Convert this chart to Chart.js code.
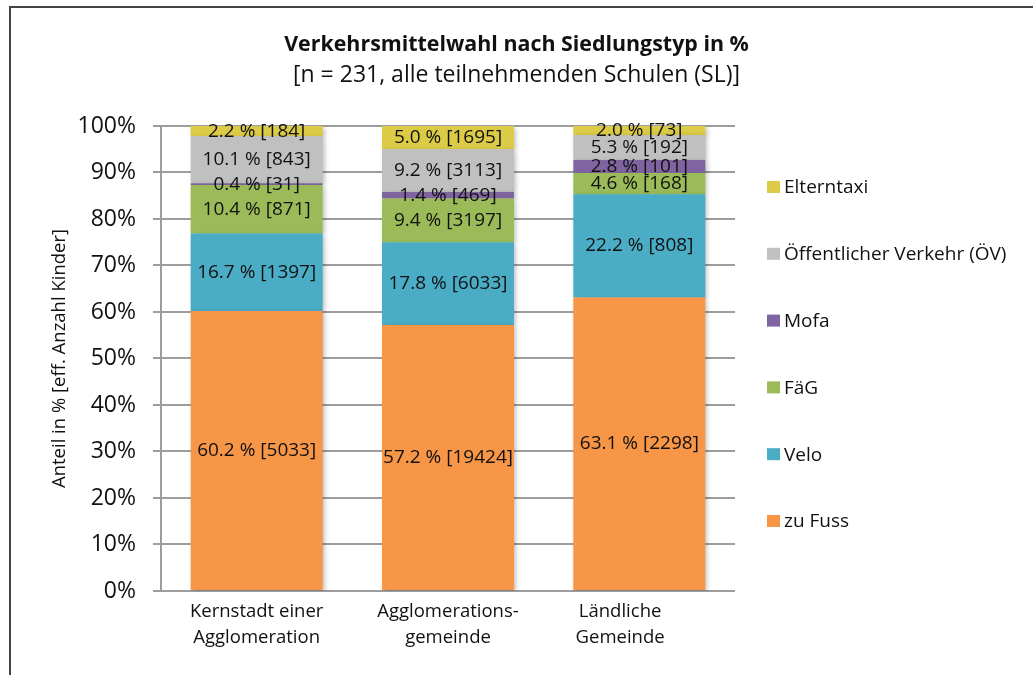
<!DOCTYPE html>
<html>
<head>
<meta charset="utf-8">
<script src="https://cdn.jsdelivr.net/npm/chart.js@4"></script>
<style>
  html, body { margin: 0; padding: 0; background: #fff; }
  #wrap { position: relative; width: 1033px; height: 675px; overflow: hidden; }
  #c { position: absolute; left: 0; top: 0; }
  #frame { position: absolute; left: 9px; top: 6px; width: 1100px; height: 800px;
           border-left: 2px solid #444; border-top: 2px solid #444; pointer-events: none; }
</style>
</head>
<body>
<div id="wrap">
  <canvas id="c" width="1033" height="675"></canvas>
  <div id="frame"></div>
</div>
<script>
// ---- data ----
const categories = [['Kernstadt einer', 'Agglomeration'], ['Agglomerations-', 'gemeinde'], ['Ländliche        ', 'Gemeinde        ']];
const seriesNames = ['zu Fuss', 'Velo', 'FäG', 'Mofa', 'Öffentlicher Verkehr (ÖV)', 'Elterntaxi'];
const zuFuss     = [60.2, 57.2, 63.1];
const velo       = [16.7, 17.8, 22.2];
const faeg       = [10.4, 9.4, 4.6];
const mofa       = [0.4, 1.4, 2.8];
const oev        = [10.1, 9.2, 5.3];
const elterntaxi = [2.2, 5.0, 2.0];
const nZuFuss     = [5033, 19424, 2298];
const nVelo       = [1397, 6033, 808];
const nFaeg       = [871, 3197, 168];
const nMofa       = [31, 469, 101];
const nOev        = [843, 3113, 192];
const nElterntaxi = [184, 1695, 73];
const yTicks = [0, 10, 20, 30, 40, 50, 60, 70, 80, 90, 100];

const colors = ['#F79646', '#4BACC6', '#9BBB59', '#8064A2', '#C0C0C0', '#DCCB46'];
const values = [zuFuss, velo, faeg, mofa, oev, elterntaxi];
const counts = [nZuFuss, nVelo, nFaeg, nMofa, nOev, nElterntaxi];

const FONT = '"Open Sans", "DejaVu Sans", sans-serif';

const datasets = seriesNames.map((name, i) => ({
  label: name,
  data: values[i],
  counts: counts[i],
  backgroundColor: colors[i],
  borderWidth: 0,
  barPercentage: 0.69,
  categoryPercentage: 1.0
}));

const shadowPlugin = {
  id: 'barShadow',
  beforeDatasetsDraw(chart) {
    const ctx = chart.ctx;
    ctx.save();
    ctx.shadowColor = 'rgba(0,0,0,0.28)';
    ctx.shadowBlur = 5;
    ctx.shadowOffsetX = 2;
    ctx.shadowOffsetY = 2;
  },
  afterDatasetsDraw(chart) {
    chart.ctx.restore();
  }
};

const labelPlugin = {
  id: 'segLabels',
  afterDatasetsDraw(chart) {
    const ctx = chart.ctx;
    ctx.save();
    ctx.font = '19px ' + FONT;
    ctx.fillStyle = '#111';
    ctx.textAlign = 'center';
    ctx.textBaseline = 'middle';
    chart.data.datasets.forEach((ds, i) => {
      const meta = chart.getDatasetMeta(i);
      meta.data.forEach((el, j) => {
        const y = (el.y + el.base) / 2;
        ctx.fillText(ds.data[j].toFixed(1) + ' % [' + ds.counts[j] + ']', el.x, y);
      });
    });
    ctx.restore();
  }
};

const legendPlugin = {
  id: 'sideLegend',
  afterDraw(chart) {
    const ctx = chart.ctx;
    ctx.save();
    ctx.font = '19px ' + FONT;
    ctx.textAlign = 'left';
    ctx.textBaseline = 'middle';
    const dsets = chart.data.datasets.slice().reverse();
    const x0 = 767, y0 = 187, step = 66.8;
    dsets.forEach((ds, k) => {
      const y = y0 + k * step;
      ctx.fillStyle = ds.backgroundColor;
      ctx.fillRect(x0, y - 6, 13, 12);
      ctx.fillStyle = '#111';
      ctx.fillText(ds.label, x0 + 17, y + 1);
    });
    ctx.restore();
  }
};

new Chart(document.getElementById('c'), {
  type: 'bar',
  data: { labels: categories, datasets },
  plugins: [shadowPlugin, labelPlugin, legendPlugin],
  options: {
    responsive: false,
    animation: false,
    devicePixelRatio: 1,
    layout: { padding: 0 },
    plugins: {
      legend: { display: false },
      tooltip: { enabled: false },
      title: {
        display: true,
        text: 'Verkehrsmittelwahl nach Siedlungstyp in %',
        color: '#111',
        font: { family: FONT, size: 21.4, weight: 'bold', lineHeight: 1.2 },
        padding: { top: 32.2, bottom: 0 }
      },
      subtitle: {
        display: true,
        text: '[n = 231, alle teilnehmenden Schulen (SL)]',
        color: '#111',
        font: { family: FONT, size: 23, lineHeight: 1.2 },
        padding: { top: 3.3, bottom: 37.2 }
      }
    },
    scales: {
      x: {
        stacked: true,
        grid: { display: false, drawTicks: false },
        border: { display: false },
        ticks: { color: '#111', font: { family: FONT, size: 18.5, lineHeight: '26px' }, padding: 8, maxRotation: 0, autoSkip: false },
        afterFit(s) { s.height = 84; }
      },
      y: {
        stacked: true,
        min: 0,
        max: 100,
        afterBuildTicks(s) { s.ticks = yTicks.map(v => ({ value: v })); },
        grid: { color: '#9d9d9d', lineWidth: 2, tickLength: 8, drawTicks: true },
        border: { display: true, color: '#9d9d9d', width: 2 },
        ticks: { color: '#111', font: { family: FONT, size: 23 }, padding: 17, callback: v => v + '%' },
        title: {
          display: true,
          text: 'Anteil in % [eff. Anzahl Kinder]',
          color: '#111',
          font: { family: FONT, size: 18.5, lineHeight: 1.2 },
          padding: { top: 49, bottom: 0 }
        },
        afterFit(s) { s.width = 161; }
      },
      spacer: {
        type: 'linear',
        position: 'right',
        display: true,
        grid: { display: false, drawTicks: false },
        border: { display: false },
        ticks: { display: false },
        afterFit(s) { s.width = 298; }
      }
    }
  }
});
</script>
</body>
</html>
